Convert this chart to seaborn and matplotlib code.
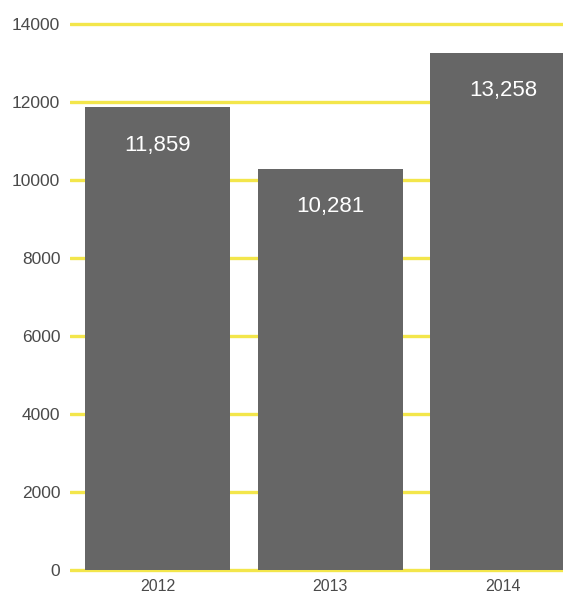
import matplotlib
matplotlib.use("Agg")
import matplotlib.pyplot as plt
import seaborn as sns
import pandas as pd

years = ["2012", "2013", "2014"]
values = [11859, 10281, 13258]
value_labels = ["11,859", "10,281", "13,258"]
y_ticks = [0, 2000, 4000, 6000, 8000, 10000, 12000, 14000]

sns.set_theme(style="white")
plt.rcParams["font.family"] = ["Liberation Sans", "DejaVu Sans"]

df = pd.DataFrame({"year": years, "value": values})

fig = plt.figure(figsize=(5.63, 5.95), dpi=100)
ax = fig.add_axes([70 / 563, 19 / 595, 1 - 70 / 563, (576 - 16) / 595])

sns.barplot(data=df, x="year", y="value", order=years, color="#666666",
            saturation=1, width=0.84, linewidth=0, ax=ax, zorder=3)

ax.set_xlim(-0.507, 2.348)
ax.set_ylim(-150, 14200)
ax.set_yticks(y_ticks)
ax.set_yticklabels([str(t) for t in y_ticks])
ax.yaxis.grid(True, color="#f3e64b", linewidth=2.4, zorder=1)
ax.xaxis.grid(False)
ax.set_axisbelow(True)
for s in ax.spines.values():
    s.set_visible(False)
ax.tick_params(axis="y", length=0, pad=7, labelsize=12.5, labelcolor="#4a4a4a")
ax.tick_params(axis="x", length=0, pad=2, labelsize=11.5, labelcolor="#4a4a4a")
ax.set_xlabel("")
ax.set_ylabel("")

for i, (v, lab) in enumerate(zip(values, value_labels)):
    ax.annotate(lab, xy=(i, v), xytext=(0, -38), textcoords="offset pixels",
                ha="center", va="center", color="white", fontsize=16, zorder=5)

fig.savefig("out.png", dpi=100)
